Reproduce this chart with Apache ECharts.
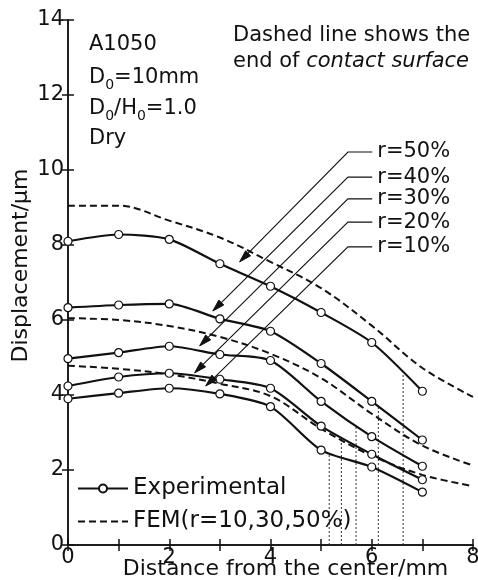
<!DOCTYPE html>
<html>
<head>
<meta charset="utf-8">
<script src="https://cdn.jsdelivr.net/npm/echarts@6/dist/echarts.min.js"></script>
<style>
  html, body { margin: 0; padding: 0; background: #fff; }
  #chart { width: 478px; height: 580px; }
</style>
</head>
<body>
<div id="chart"></div>
<script>
// measured points, distance from the center (mm)
const xExp = [0, 1, 2, 3, 4, 5, 6, 7];
const expR50 = [8.1, 8.28, 8.15, 7.5, 6.9, 6.2, 5.4, 4.1];
const expR40 = [6.33, 6.4, 6.43, 6.03, 5.7, 4.84, 3.83, 2.8];
const expR30 = [4.97, 5.13, 5.3, 5.08, 4.92, 3.83, 2.89, 2.1];
const expR20 = [4.24, 4.48, 4.58, 4.42, 4.18, 3.17, 2.42, 1.74];
const expR10 = [3.9, 4.05, 4.18, 4.03, 3.69, 2.53, 2.08, 1.41];

// FEM curves
const xFem = [0, 1, 2, 3, 4, 5, 6, 7, 8];
const fem50 = [9.05, 9.05, 8.65, 8.2, 7.55, 6.85, 5.85, 4.72, 3.95];
const fem30 = [6.05, 6.0, 5.84, 5.55, 5.1, 4.45, 3.5, 2.65, 2.12];
const fem10 = [4.78, 4.7, 4.55, 4.3, 3.97, 3.1, 2.38, 1.87, 1.57];

// end of contact surface, r = 10, 20, 30, 40, 50 %
const contactEnd = [5.16, 5.4, 5.69, 6.13, 6.62];

// r= labels with leader arrows
const rLabels = ['r=50%', 'r=40%', 'r=30%', 'r=20%', 'r=10%'];
const arrowTips = [[3.39, 7.55], [2.86, 6.24], [2.6, 5.31], [2.5, 4.59], [2.72, 4.24]];
const labelY = [10.48, 9.81, 9.23, 8.61, 7.95];
const elbowX = 5.53;
const leaderEndX = 6.01;

const FONT = 'DejaVu Sans';
const INK = '#111';

function interp(xs, ys, x) {
    for (let i = 0; i < xs.length - 1; i++) {
        if (x >= xs[i] && x <= xs[i + 1]) {
            const t = (x - xs[i]) / (xs[i + 1] - xs[i]);
            return ys[i] + t * (ys[i + 1] - ys[i]);
        }
    }
    return ys[ys.length - 1];
}

const chart = echarts.init(document.getElementById('chart'), null, { renderer: 'canvas' });

const expSeries = [expR50, expR40, expR30, expR20, expR10].map(arr => ({
    name: 'Experimental',
    type: 'line',
    data: xExp.map((x, i) => [x, arr[i]]),
    symbol: 'circle',
    symbolSize: 8,
    smooth: 0.25,
    lineStyle: { color: INK, width: 2.2 },
    itemStyle: { color: '#fff', borderColor: INK, borderWidth: 1.2 },
    z: 4,
    silent: true
}));

const femSeries = [fem50, fem30, fem10].map(arr => ({
    name: 'FEM(r=10,30,50%)',
    type: 'line',
    data: xFem.map((x, i) => [x, arr[i]]),
    symbol: 'none',
    smooth: 0.35,
    lineStyle: { color: INK, width: 2, type: [7, 4] },
    itemStyle: { color: INK },
    z: 3,
    silent: true
}));

const contactCurves = [expR10, expR20, expR30, expR40, expR50];
const contactSeries = contactEnd.map((x, i) => ({
    name: 'contact' + i,
    type: 'line',
    data: [[x, 0], [x, interp(xExp, contactCurves[i], x)]],
    symbol: 'none',
    lineStyle: { color: '#333', width: 1, type: [2, 2] },
    z: 2,
    silent: true
}));

const axisLine = { show: true, lineStyle: { color: INK, width: 1.5 } };
const axisTick = { show: true, inside: true, length: 6, lineStyle: { color: INK, width: 1.5 } };

const option = {
    backgroundColor: '#fff',
    animation: false,
    grid: { left: 68, right: 5, top: 20, bottom: 35, containLabel: false, outerBoundsMode: 'none' },
    legend: {
        data: [
            { name: 'Experimental' },
            { name: 'FEM(r=10,30,50%)', itemStyle: { opacity: 0 } }
        ],
        orient: 'vertical',
        left: 77,
        top: 477,
        padding: 0,
        itemWidth: 50,
        itemHeight: 10,
        itemGap: 10,
        selectedMode: false,
        textStyle: { fontFamily: FONT, fontSize: 23, color: INK, lineHeight: 22 }
    },
    xAxis: [{
        type: 'value', min: 0, max: 8, interval: 1, position: 'bottom',
        axisLine: axisLine, axisTick: axisTick, splitLine: { show: false },
        axisLabel: {
            formatter: v => (v % 2 === 0 ? String(v) : ''),
            fontFamily: FONT, fontSize: 21, color: INK, margin: 2
        },
        name: 'Distance from the center/mm', nameLocation: 'middle', nameGap: 13,
        nameMoveOverlap: false,
        nameTextStyle: { fontFamily: FONT, fontSize: 22, color: INK, padding: [0, 0, 0, 30] }
    }, {
        type: 'value', min: 0, max: 8, interval: 1, position: 'top',
        axisLine: axisLine, axisTick: axisTick, splitLine: { show: false },
        axisLabel: { show: false }
    }],
    yAxis: [{
        type: 'value', min: 0, max: 14, interval: 2, position: 'left',
        axisLine: axisLine, axisTick: axisTick, splitLine: { show: false },
        axisLabel: { fontFamily: FONT, fontSize: 21, color: INK, margin: 4 },
        name: 'Displacement/\u03bcm', nameLocation: 'middle', nameGap: 36, nameRotate: 90,
        nameMoveOverlap: false,
        nameTextStyle: { fontFamily: FONT, fontSize: 22, color: INK, padding: [0, 0, 0, 34] }
    }, {
        type: 'value', min: 0, max: 14, interval: 2, position: 'right',
        axisLine: axisLine, axisTick: axisTick, splitLine: { show: false },
        axisLabel: { show: false }
    }],
    series: [...contactSeries, ...femSeries, ...expSeries]
};

chart.setOption(option);

// annotations: text blocks, r= leaders with arrows
const graphics = [];
const subStyle = { fontFamily: FONT, fontSize: 14, padding: [14, 0, 0, 0], fill: INK };
function txt(text, x, y, size, rich) {
    graphics.push({
        type: 'text', silent: true, z: 10,
        style: {
            text: text, x: x, y: y,
            font: size + 'px "' + FONT + '"', fill: INK,
            align: 'left', verticalAlign: 'middle',
            textAlign: 'left', textVerticalAlign: 'middle',
            rich: rich
        }
    });
}
txt('A1050', 89, 45, 21);
txt('D{s|0}=10mm', 89, 78, 21, { s: subStyle });
txt('D{s|0}/H{s|0}=1.0', 89, 109, 21, { s: subStyle });
txt('Dry', 89, 139, 21);
txt('Dashed line shows the', 233, 36, 21);
txt('end of {i|contact surface}', 233, 62, 21, {
    i: { fontFamily: FONT, fontSize: 21, fontStyle: 'italic', fill: INK }
});

rLabels.forEach((label, i) => {
    const tip = chart.convertToPixel({ gridIndex: 0 }, arrowTips[i]);
    const elbow = chart.convertToPixel({ gridIndex: 0 }, [elbowX, labelY[i]]);
    const end = chart.convertToPixel({ gridIndex: 0 }, [leaderEndX, labelY[i]]);
    const dx = tip[0] - elbow[0], dy = tip[1] - elbow[1];
    const len = Math.sqrt(dx * dx + dy * dy);
    const ux = dx / len, uy = dy / len;
    const L = 12, W = 3.5;
    const bx = tip[0] - ux * L, by = tip[1] - uy * L;
    graphics.push({
        type: 'polyline', silent: true, z: 9,
        shape: { points: [[bx, by], elbow, end] },
        style: { stroke: INK, lineWidth: 1.1, fill: null }
    });
    graphics.push({
        type: 'polygon', silent: true, z: 9,
        shape: { points: [tip, [bx - uy * W, by + ux * W], [bx + uy * W, by - ux * W]] },
        style: { fill: INK, stroke: INK, lineWidth: 1 }
    });
    txt(label, end[0] + 5, end[1], 21);
});

chart.setOption({ graphic: graphics });

window.addEventListener('resize', function() {
    chart.resize();
});
</script>
</body>
</html>
